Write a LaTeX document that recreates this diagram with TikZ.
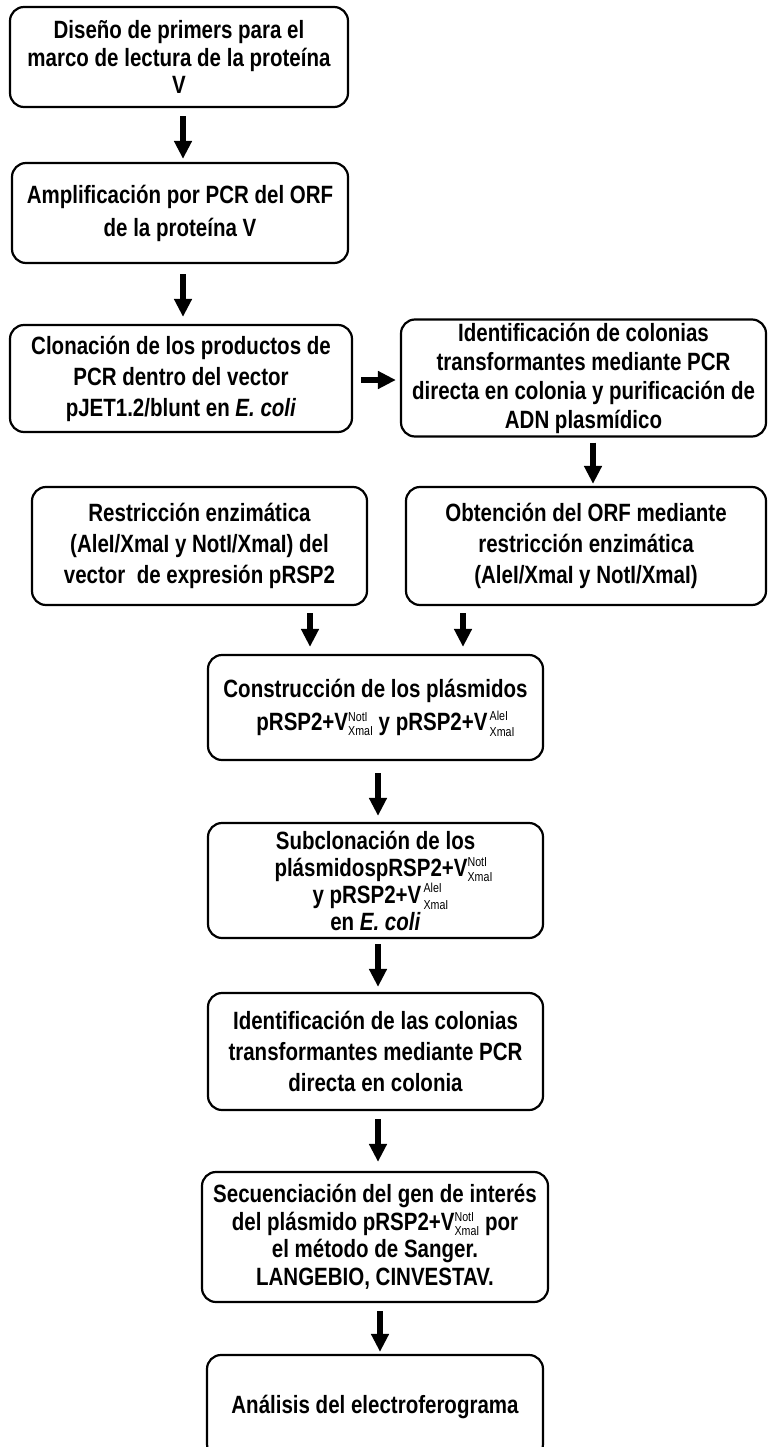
\documentclass[tikz,border=0pt]{standalone}
\usepackage{fontspec}
\setmainfont{Liberation Sans}[FakeStretch=0.82]
\usetikzlibrary{arrows.meta}

% stacked enzyme labels after a V: tight and loose variants
\newcommand\enzT[2]{{\fontsize{13}{11}\selectfont\mdseries\smash{\raisebox{-5pt}{\shortstack[l]{#1\\[2pt]#2}}}}}
\newcommand\enzL[2]{{\fontsize{13}{11}\selectfont\mdseries\,\smash{\raisebox{-6pt}{\shortstack[l]{#1\\[4pt]#2}}}}}

\tikzset{
  box/.style={draw, line width=2.2pt, rounded corners=14pt, align=center,
    inner sep=0pt, font=\fontsize{25}{31}\selectfont\bfseries},
  tight/.style={font=\fontsize{25}{29}\selectfont\bfseries},
  tighter/.style={font=\fontsize{25}{27.5}\selectfont\bfseries},
  arr/.style={line width=6pt, -{Triangle[width=17pt,length=18pt]}}
}

\begin{document}
\begin{tikzpicture}[x=1pt,y=-1pt]
\useasboundingbox (0,0) rectangle (770,1447);
\fill[white] (0,0) rectangle (770,1447);
\clip (0,0) rectangle (770,1447);

% process boxes
\node[box, tighter, minimum width=338pt, minimum height=100pt] (b1) at (179,57)
  {Diseño de primers para el\\marco de lectura de la proteína\\V};
\node[box, minimum width=336pt, minimum height=100pt, font=\fontsize{25}{33}\selectfont\bfseries] (b2) at (180,213)
  {Amplificación por PCR del ORF\\de la proteína V};
\node[box, minimum width=342pt, minimum height=107pt] (b3) at (181,378.5)
  {Clonación de los productos de\\PCR dentro del vector\\pJET1.2/blunt en \textit{E. coli}};
\node[box, tight, minimum width=365pt, minimum height=117pt] (b4) at (583.5,378)
  {Identificación de colonias\\transformantes mediante PCR\\directa en colonia y purificación de\\ADN plasmídico};
\node[box, minimum width=335pt, minimum height=118pt] (b5) at (199.5,546)
  {Restricción enzimática\\(AleI/XmaI y NotI/XmaI) del\\vector\ \ de expresión pRSP2};
\node[box, minimum width=360pt, minimum height=118pt] (b6) at (586,546)
  {Obtención del ORF mediante\\restricción enzimática\\(AleI/XmaI y NotI/XmaI)};
\node[box, minimum width=335pt, minimum height=105pt] (b7) at (375.5,707.5)
  {Construcción de los plásmidos\\[2pt]\hspace{20pt}pRSP2+V\enzT{NotI}{XmaI} y pRSP2+V\enzL{AleI}{XmaI}};
\node[box, minimum width=335pt, minimum height=115pt, font=\fontsize{25}{27}\selectfont\bfseries] (b8) at (375.5,880.5)
  {Subclonación de los\\\hspace{16pt}plásmidospRSP2+V\enzT{NotI}{XmaI}\\\hspace{10pt}y pRSP2+V\enzL{AleI}{XmaI}\\en \textit{E. coli}};
\node[box, minimum width=335pt, minimum height=117pt] (b9) at (375.5,1051.5)
  {Identificación de las colonias\\transformantes mediante PCR\\directa en colonia};
\node[box, tighter, minimum width=346pt, minimum height=130pt] (b10) at (375,1237)
  {Secuenciación del gen de interés\\del plásmido pRSP2+V\enzT{NotI}{XmaI} por\\el método de Sanger.\\LANGEBIO, CINVESTAV.};
\node[box, minimum width=336pt, minimum height=103pt] (b11) at (375,1406.5)
  {Análisis del electroferograma};

% arrow columns
\coordinate (c1) at (183,0);
\coordinate (c4) at (593,0);
\coordinate (c5) at (310,0);
\coordinate (c6) at (463,0);
\coordinate (c7) at (378,0);
\coordinate (c10) at (380,0);
\coordinate (r3) at (0,380);

% connectors
\draw[arr, shorten <=8pt, shorten >=3pt] (b1.south -| c1) -- (b2.north -| c1);
\draw[arr, shorten <=10pt, shorten >=7pt] (b2.south -| c1) -- (b3.north -| c1);
\draw[arr, shorten <=8pt, shorten >=4pt] (b3.east |- r3) -- (b4.west |- r3);
\draw[arr, shorten <=5pt, shorten >=2pt] (b4.south -| c4) -- (b6.north -| c4);
\draw[arr, shorten <=7pt, shorten >=7pt] (b5.south -| c5) -- (b7.north -| c5);
\draw[arr, shorten <=7pt, shorten >=7pt] (b6.south -| c6) -- (b7.north -| c6);
\draw[arr, shorten <=12pt, shorten >=6pt] (b7.south -| c7) -- (b8.north -| c7);
\draw[arr, shorten <=5pt, shorten >=5pt] (b8.south -| c7) -- (b9.north -| c7);
\draw[arr, shorten <=8pt, shorten >=9pt] (b9.south -| c7) -- (b10.north -| c7);
\draw[arr, shorten <=8pt, shorten >=2pt] (b10.south -| c10) -- (b11.north -| c10);
\end{tikzpicture}
\end{document}
